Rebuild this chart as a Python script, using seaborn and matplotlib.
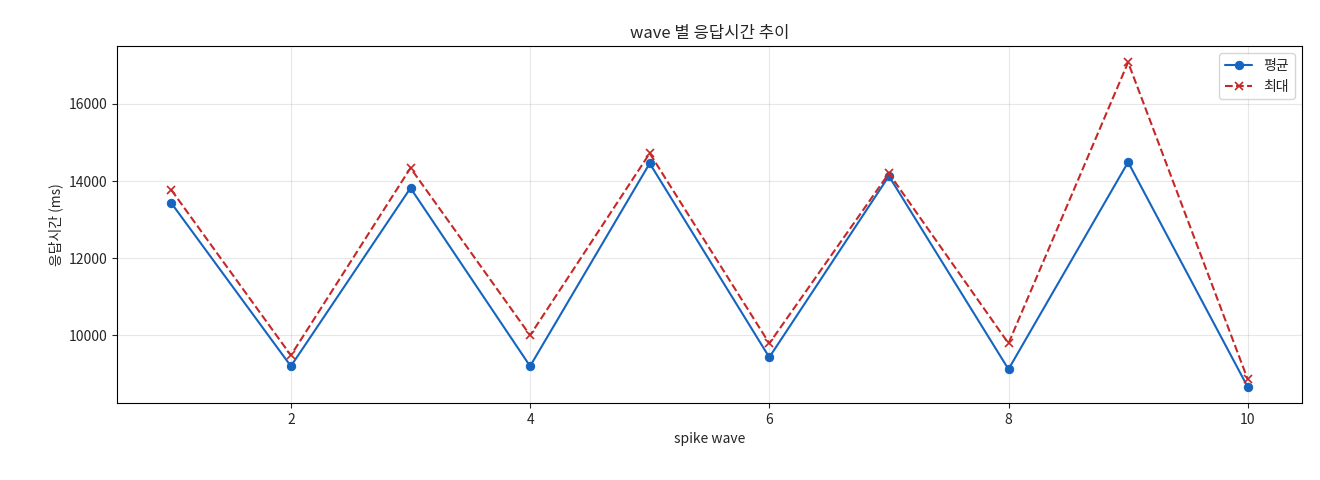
import matplotlib
matplotlib.use("Agg")
import matplotlib.pyplot as plt
import seaborn as sns
import pandas as pd

waves = [1, 2, 3, 4, 5, 6, 7, 8, 9, 10]
avg_ms = [13430, 9200, 13820, 9200, 14460, 9430, 14130, 9120, 14490, 8660]
max_ms = [13770, 9480, 14340, 10000, 14720, 9790, 14200, 9790, 17080, 8860]

sns.set_style("ticks")
plt.rcParams['font.family'] = ['Noto Sans CJK KR', 'DejaVu Sans']

df = pd.DataFrame({"wave": waves, "avg": avg_ms, "max": max_ms})
fig, ax = plt.subplots(figsize=(13.2, 4.8), dpi=100)
sns.lineplot(data=df, x="wave", y="avg", ax=ax, color="#1565C0", marker="o",
             markersize=6, markeredgecolor="#1565C0", linewidth=1.5, label="평균")
sns.lineplot(data=df, x="wave", y="max", ax=ax, color="#C62828", marker="x",
             markersize=6, markeredgecolor="#C62828", markeredgewidth=1.2,
             linewidth=1.5, label="최대")
ax.lines[1].set_linestyle("--")
ax.grid(True, color="#b0b0b0", alpha=0.3)
for s in ax.spines.values():
    s.set_color("black")
ax.set_title("wave 별 응답시간 추이")
ax.set_xlabel("spike wave")
ax.set_ylabel("응답시간 (ms)")
leg = ax.legend(loc="upper right")
for h in leg.legend_handles:
    pass
leg.legend_handles[1].set_linestyle("--")
fig.subplots_adjust(left=0.089, right=0.986, top=0.904, bottom=0.16)
fig.savefig("out.png")
